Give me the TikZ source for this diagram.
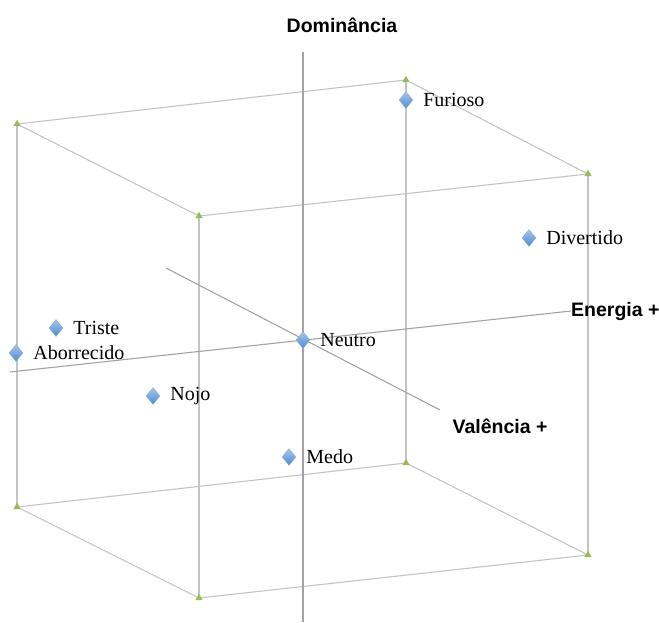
\documentclass[tikz,border=0pt]{standalone}
\usepackage{fontspec}
\setmainfont{Liberation Serif}
\newfontfamily\axisfont{Liberation Sans}
\usetikzlibrary{shapes.geometric}

\definecolor{edgegray}{HTML}{C4C4C4}
\definecolor{axisgray}{HTML}{A3A3A3}
\definecolor{cornergreen}{HTML}{9BBB59}
\definecolor{ptblue}{HTML}{4F8BD0}

\tikzset{
  cubeedge/.style={draw=edgegray, line width=1.1pt},
  axisline/.style={draw=axisgray, line width=1.1pt},
  vmark/.style={regular polygon, regular polygon sides=3, fill=cornergreen,
    minimum size=8.5pt, inner sep=0pt},
  pt/.style={diamond, minimum width=14pt, minimum height=17pt, inner sep=0pt,
    top color=ptblue!50, bottom color=ptblue, draw=ptblue!70, line width=0.3pt,
    label={[ptlbl]right:#1}},
  ptlbl/.style={font=\fontsize{20}{23}\selectfont, inner sep=0pt, xshift=10pt},
  axlbl/.style={font=\axisfont\bfseries\fontsize{19.5}{22}\selectfont, inner sep=0pt}
}

\begin{document}
\begin{tikzpicture}[x=1pt,y=-1pt]
  \useasboundingbox (0,0) rectangle (659,622);
  % cube corners (t/b = top/bottom, b/f = back/front, l/r = left/right)
  \coordinate (tbl) at (17,124);
  \coordinate (tbr) at (406,80);
  \coordinate (tfl) at (199,216);
  \coordinate (tfr) at (588,174);
  \coordinate (bbl) at (17,507);
  \coordinate (bbr) at (406,463);
  \coordinate (bfl) at (199,598);
  \coordinate (bfr) at (588,555);
  \draw[cubeedge] (tbl) -- (tbr) -- (tfr) -- (tfl) -- cycle;
  \draw[cubeedge] (bbl) -- (bbr) -- (bfr) -- (bfl) -- cycle;
  \foreach \c in {bl,br,fl,fr}
    \draw[cubeedge] (t\c) -- (b\c);
  % axes
  \node[axlbl] (dom) at (342,25) {Dominância};
  \node[axlbl, anchor=west] (ene) at (571,311) {Energia +};
  \node[axlbl] (val) at (500,426) {Valência +};
  \coordinate (dom0) at (303,52);
  \coordinate (dom1) at (303,622);
  \coordinate (ene0) at (10,372);
  \coordinate (val0) at (166,268);
  \coordinate (val1) at (440,410);
  \draw[axisline] (dom0) -- (dom1);
  \draw[axisline] (ene0) -- (ene.west);
  \draw[axisline] (val0) -- (val1);
  % corner markers
  \foreach \c in {tbl,tbr,tfl,tfr,bbl,bbr,bfl,bfr}
    \node[vmark] (m-\c) at (\c) {};
  % emotions
  \node[pt=Furioso] (furioso) at (406,100) {};
  \node[pt=Divertido] (divertido) at (529,238) {};
  \node[pt=Triste] (triste) at (56,328) {};
  \node[pt=Aborrecido] (aborrecido) at (16,353) {};
  \node[pt=Neutro] (neutro) at (303,340) {};
  \node[pt=Nojo] (nojo) at (153,396) {};
  \node[pt=Medo] (medo) at (289,457) {};
\end{tikzpicture}
\end{document}
